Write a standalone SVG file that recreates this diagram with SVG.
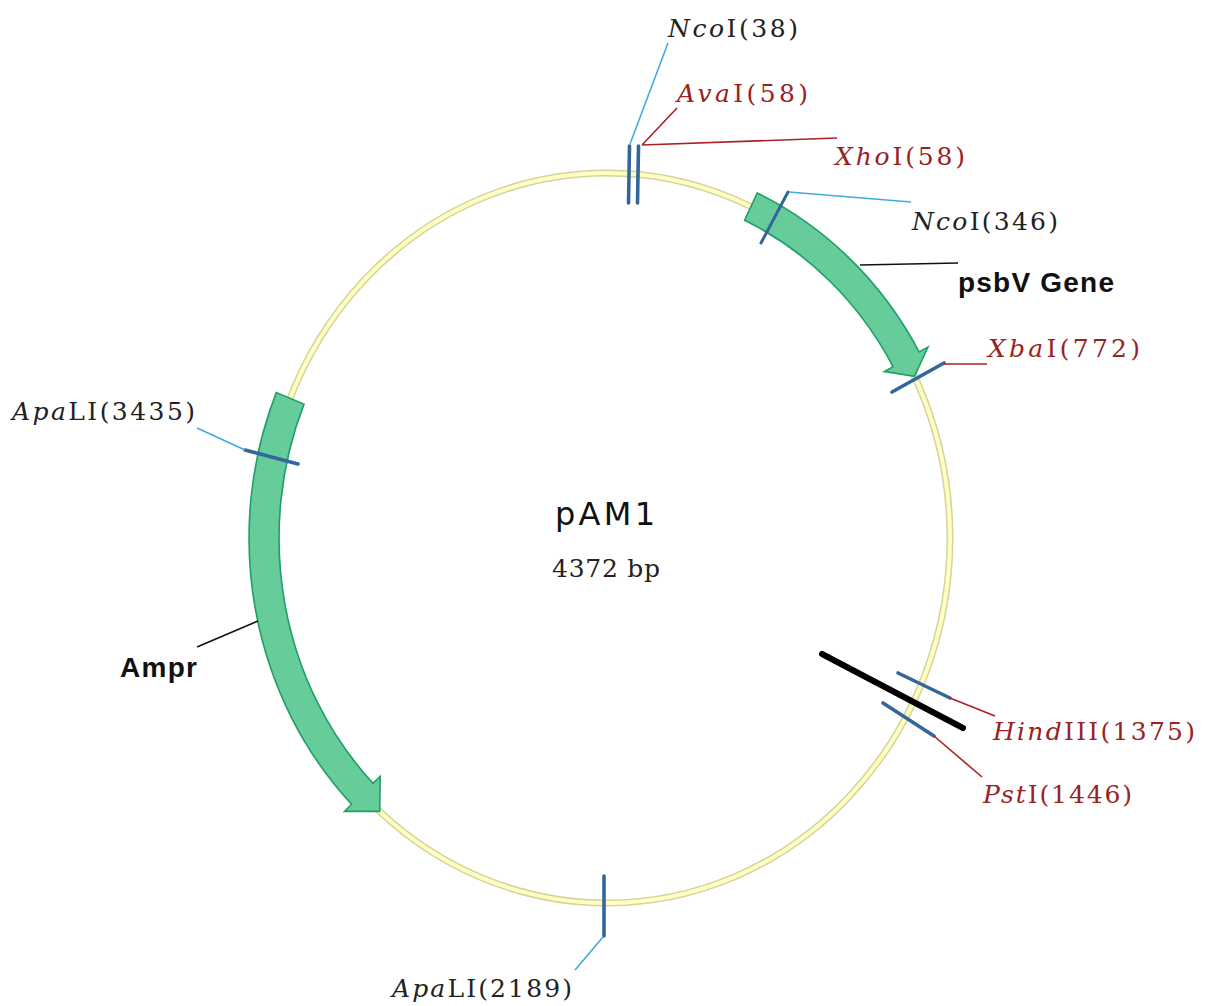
<svg xmlns="http://www.w3.org/2000/svg" width="1208" height="1006" viewBox="0 0 1208 1006">
<style>
.bb-out{fill:none;stroke:#d4d49a;stroke-width:7}
.bb-in{fill:none;stroke:#ffffc4;stroke-width:4}
.gene{fill:#66cc99;stroke:#1f9e6a;stroke-width:1.6;stroke-linejoin:miter}
.tick{stroke:#336699;stroke-width:3.6;stroke-linecap:round}
.lb{fill:none;stroke:#44aadd;stroke-width:1.6}
.lr{fill:none;stroke:#aa2222;stroke-width:1.6}
.lk{fill:none;stroke:#111;stroke-width:1.6}
.site{font-family:"DejaVu Serif","Liberation Serif",serif;font-size:25px}
.blk{fill:#222}
.red{fill:#992222}
.glab{font-family:"Liberation Sans",Arial,sans-serif;font-weight:bold;font-size:28px;fill:#111}
.i{font-style:italic}
</style>
<rect width="1208" height="1006" fill="#ffffff"/>
<g id="backbone">
<ellipse class="bb-out" cx="607" cy="538" rx="343" ry="365"/>
<ellipse class="bb-in" cx="607" cy="538" rx="343" ry="365"/>
</g>
<g id="psbV">
<path class="gene" d="M757.2,193 A358 380 0 0 1 919.2,352 L927.9,347.1 L914.5,376.3 L884.3,371.6 L893.1,366.7 A328 350 0 0 0 744.6,220.3 Z"/>
</g>
<g id="Ampr">
<path class="gene" d="M276.3,392.6 A358 380 0 0 0 351.6,804.3 L344.5,811.4 L379.7,811.4 L380.2,776.3 L373,783.3 A328 350 0 0 1 304,404.1 Z"/>
</g>
<g id="site-NcoI-38"><line class="tick" x1="629.5" y1="146" x2="628.5" y2="203"/></g>
<g id="site-AvaI-XhoI-58"><line class="tick" x1="638.5" y1="146" x2="637.5" y2="203"/></g>
<g id="site-NcoI-346"><line class="tick" x1="788" y1="192" x2="761" y2="243" style="stroke-width:3"/></g>
<g id="site-XbaI-772"><line class="tick" x1="944" y1="363" x2="892" y2="392"/></g>
<g id="site-HindIII-1375"><line class="tick" x1="898" y1="673" x2="950" y2="698"/></g>
<g id="site-PstI-1446"><line class="tick" x1="883" y1="703" x2="934" y2="736"/></g>
<g id="site-ApaLI-2189"><line class="tick" x1="604" y1="876" x2="604" y2="936"/></g>
<g id="site-ApaLI-3435"><line class="tick" x1="245" y1="450" x2="298" y2="464"/></g>
<g id="marker-bar"><line x1="822" y1="654" x2="963" y2="728" stroke="#000" stroke-width="6" stroke-linecap="round"/></g>
<g id="connectors">
<line class="lb" x1="630" y1="144" x2="668" y2="43"/>
<line class="lr" x1="642" y1="145" x2="677" y2="108"/>
<line class="lr" x1="642" y1="145" x2="837" y2="138"/>
<line class="lb" x1="789" y1="192" x2="911" y2="202"/>
<line class="lk" x1="860" y1="265" x2="958" y2="263"/>
<line class="lr" x1="944" y1="364" x2="987" y2="364"/>
<line class="lr" x1="950" y1="698" x2="995" y2="716"/>
<line class="lr" x1="934" y1="736" x2="982" y2="777"/>
<line class="lb" x1="603" y1="937" x2="575" y2="970"/>
<line class="lb" x1="245" y1="450" x2="197" y2="428"/>
<line class="lk" x1="258" y1="621" x2="197" y2="647"/>
</g>
<g id="labels">
<text class="site blk" x="668" y="37" textLength="130"><tspan class="i">Nco</tspan>I(38)</text>
<text class="site red" x="677" y="102" textLength="131"><tspan class="i">Ava</tspan>I(58)</text>
<text class="site red" x="835" y="165" textLength="130"><tspan class="i">Xho</tspan>I(58)</text>
<text class="site blk" x="912" y="230" textLength="146"><tspan class="i">Nco</tspan>I(346)</text>
<text class="site red" x="988" y="357" textLength="152"><tspan class="i">Xba</tspan>I(772)</text>
<text class="site red" x="993" y="740" textLength="202"><tspan class="i">Hind</tspan>III(1375)</text>
<text class="site red" x="983" y="803" textLength="149"><tspan class="i">Pst</tspan>I(1446)</text>
<text class="site blk" x="392" y="997" textLength="180"><tspan class="i">Apa</tspan>LI(2189)</text>
<text class="site blk" x="12" y="420" textLength="183"><tspan class="i">Apa</tspan>LI(3435)</text>
<text class="glab" x="958" y="292" textLength="156">psbV Gene</text>
<text class="glab" x="120" y="677" textLength="77">Ampr</text>
<text x="555" y="525" font-family="DejaVu Sans,sans-serif" font-size="32" fill="#111" textLength="100">pAM1</text>
<text class="site blk" x="552" y="577" textLength="108">4372 bp</text>
</g>
</svg>
